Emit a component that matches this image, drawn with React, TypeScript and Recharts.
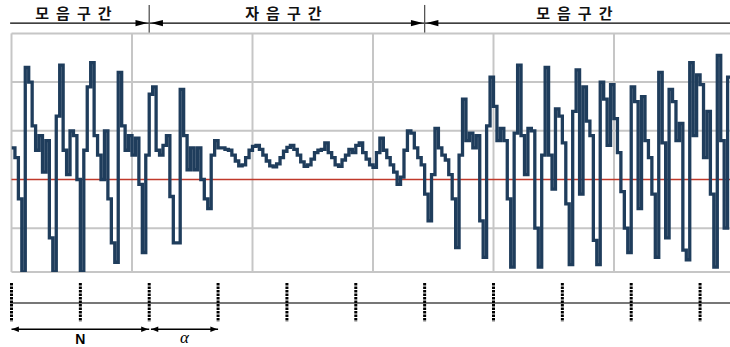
import React from "react";
import {
  ComposedChart,
  Line,
  XAxis,
  YAxis,
  CartesianGrid,
  ReferenceLine,
  ReferenceDot,
} from "recharts";

// waveform amplitude per sample (grid units, 0 = red baseline)
const SAMPLES = [
  0.65, 0.45, -0.4, -1.9, 2.3, 2.0, 1.1, 0.6, 0.9, 0.15,
  0.8, -1.2, -1.9, 1.3, 2.35, 0.6, 0.1, 1.0, 0.9, 0.0,
  -1.9, 0.6, 1.9, 2.4, 0.9, 0.5, 0.0, 1.0, -0.4, -1.3,
  -1.7, 2.2, 1.1, 0.6, 0.9, 0.5, 0.85, -0.1, -1.5, 0.5,
  1.75, 1.9, 0.6, 0.5, 0.7, 0.9, -0.35, -1.3, -1.3, 1.85,
  0.9, 0.2, 0.65, 0.2, 0.65, 0.0, -0.4, -0.6, 0.5, 0.8,
  0.65, 0.65, 0.62, 0.6, 0.5, 0.38, 0.28, 0.3, 0.45, 0.6,
  0.68, 0.7, 0.62, 0.5, 0.38, 0.28, 0.26, 0.32, 0.45, 0.58,
  0.66, 0.7, 0.62, 0.5, 0.36, 0.27, 0.3, 0.42, 0.55, 0.6,
  0.62, 0.75, 0.55, 0.45, 0.3, 0.27, 0.4, 0.5, 0.62, 0.55,
  0.7, 0.75, 0.55, 0.42, 0.3, 0.25, 0.55, 0.85, 0.6, 0.45,
  0.3, 0.15, -0.1, 0.05, 0.6, 1.0, 0.95, 0.65, 0.45, 0.3,
  -0.3, -0.85, 0.1, 1.05, 0.65, 0.5, 0.4, 0.1, -0.4, -1.4,
  0.5, 1.65, 0.8, 0.95, 0.65, 0.9, -0.85, -1.6, 1.1, 2.1,
  1.5, 0.8, 1.05, 0.8, -0.4, -1.8, 0.95, 2.35, 0.9, 0.1,
  1.05, 1.0, -1.0, -1.8, 0.5, 2.3, 0.5, -0.2, 1.45, 1.3,
  0.75, -0.5, -1.75, 1.4, 2.25, -0.3, 1.9, 1.2, 0.9, -1.25,
  -1.75, 2.0, 1.65, 0.7, 1.95, 1.25, 0.55, -0.25, -1.0, -1.5,
  1.9, 1.6, -0.6, 1.7, 0.8, 0.45, -0.3, -1.6, 2.2, 0.75,
  -1.2, 1.85, 1.6, 0.8, 1.15, -1.45, -1.65, 2.4, 0.9, 2.15,
  1.95, 0.45, 1.4, -0.3, -1.8, 2.55, 0.8, -1.0, 2.1, 2.1,
];

const GRID_X = [0, 35, 70, 105, 140, 175, 210];
const GRID_Y = [-1, 1, 2, 3];
const FRAME_TICKS = [0, 20, 40, 60, 80, 100, 120, 140, 160, 180, 200];

const SECTION_LABELS = ["모음구간", "자음구간", "모음구간"];
const SECTION_LABEL_X = [19, 80, 164.5];
const SECTION_BOUNDS = [0, 40, 120, 215];

const N_SPAN = [0, 40];
const ALPHA_SPAN = [40.5, 60];

const X_DOMAIN: [number, number] = [0, 210];
const CHART_W = 750;
const MARGIN_X = { left: 11.5, right: 15.5 };

const WAVE = "#1f3d5c";

const data = SAMPLES.map((v, t) => ({ t, v }));

// filled arrow head, tip at (cx, cy)
const arrowHead = (dir: 1 | -1, len: number, half: number) => (p: any) => (
  <polygon
    points={`${p.cx},${p.cy} ${p.cx - dir * len},${p.cy - half} ${p.cx - dir * len},${p.cy + half}`}
    fill="#000"
  />
);

const textAt = (value: string, style: React.CSSProperties) => (p: any) => (
  <text x={p.cx} y={p.cy} textAnchor="middle" style={style}>
    {value}
  </text>
);

function Header() {
  return (
    <ComposedChart
      width={CHART_W}
      height={33}
      data={data}
      margin={{ top: 0, bottom: 0, ...MARGIN_X }}
    >
      <XAxis hide type="number" dataKey="t" domain={X_DOMAIN} allowDataOverflow />
      <YAxis hide type="number" domain={[0, 10]} allowDataOverflow />
      <ReferenceLine
        segment={[{ x: SECTION_BOUNDS[0] - 0.4, y: 3 }, { x: SECTION_BOUNDS[3], y: 3 }]}
        stroke="#000"
        strokeWidth={1.3}
        ifOverflow="visible"
      />
      {SECTION_BOUNDS.slice(1, 3).map((b) => (
        <ReferenceLine
          key={`d${b}`}
          segment={[{ x: b, y: 8.5 }, { x: b, y: 0 }]}
          stroke="#555"
          strokeWidth={1.3}
          ifOverflow="visible"
        />
      ))}
      {SECTION_BOUNDS.slice(1, 3).map((b) => (
        <ReferenceDot key={`r${b}`} x={b - 0.5} y={3} ifOverflow="visible" shape={arrowHead(1, 12, 3.2)} />
      ))}
      {SECTION_BOUNDS.slice(1, 3).map((b) => (
        <ReferenceDot key={`l${b}`} x={b + 0.5} y={3} ifOverflow="visible" shape={arrowHead(-1, 12, 3.2)} />
      ))}
      {SECTION_LABELS.map((s, i) => (
        <ReferenceDot
          key={`t${i}`}
          x={SECTION_LABEL_X[i]}
          y={4.1}
          ifOverflow="visible"
          shape={textAt(s, {
            fontFamily: "'Noto Sans CJK KR', sans-serif",
            fontSize: 15,
            fontWeight: 700,
            letterSpacing: 7,
            fill: "#111",
          })}
        />
      ))}
    </ComposedChart>
  );
}

function Wave() {
  return (
    <ComposedChart
      width={CHART_W}
      height={242}
      data={data}
      margin={{ top: 1.4, bottom: 2, ...MARGIN_X }}
    >
      <CartesianGrid stroke="#c6c6c6" strokeWidth={2} />
      <XAxis hide type="number" dataKey="t" domain={X_DOMAIN} ticks={GRID_X} allowDataOverflow />
      <YAxis hide type="number" domain={[-1.9, 3]} ticks={GRID_Y} allowDataOverflow />
      <ReferenceLine y={0} stroke="#c0392b" strokeWidth={1.5} />
      <Line
        type="stepAfter"
        dataKey="v"
        stroke={WAVE}
        strokeWidth={3.3}
        dot={false}
        isAnimationActive={false}
      />
    </ComposedChart>
  );
}

function Frames() {
  return (
    <ComposedChart
      width={CHART_W}
      height={74}
      data={data}
      margin={{ top: 0, bottom: 0, ...MARGIN_X }}
    >
      <XAxis hide type="number" dataKey="t" domain={X_DOMAIN} allowDataOverflow />
      <YAxis hide type="number" domain={[0, 10]} allowDataOverflow />
      <ReferenceLine
        segment={[{ x: -0.4, y: 5.95 }, { x: 215, y: 5.95 }]}
        stroke="#777"
        strokeWidth={2}
        ifOverflow="visible"
      />
      {FRAME_TICKS.map((f) => (
        <ReferenceLine
          key={f}
          segment={[{ x: f, y: 8.65 }, { x: f, y: 3.4 }]}
          stroke="#000"
          strokeWidth={3}
          strokeDasharray="2.5 1"
          ifOverflow="visible"
        />
      ))}
      <ReferenceLine
        segment={[{ x: N_SPAN[0], y: 2.4 }, { x: N_SPAN[1], y: 2.4 }]}
        stroke="#000"
        strokeWidth={1.5}
        ifOverflow="visible"
      />
      <ReferenceLine
        segment={[{ x: ALPHA_SPAN[0], y: 2.4 }, { x: ALPHA_SPAN[1], y: 2.4 }]}
        stroke="#000"
        strokeWidth={1.5}
        ifOverflow="visible"
      />
      <ReferenceDot x={N_SPAN[0] + 0.1} y={2.4} ifOverflow="visible" shape={arrowHead(-1, 7, 2.8)} />
      <ReferenceDot x={N_SPAN[1] - 0.3} y={2.4} ifOverflow="visible" shape={arrowHead(1, 7, 2.8)} />
      <ReferenceDot x={ALPHA_SPAN[0] + 0.1} y={2.4} ifOverflow="visible" shape={arrowHead(-1, 7, 2.8)} />
      <ReferenceDot x={ALPHA_SPAN[1] - 0.2} y={2.4} ifOverflow="visible" shape={arrowHead(1, 7, 2.8)} />
      <ReferenceDot
        x={(N_SPAN[0] + N_SPAN[1]) / 2}
        y={0.4}
        ifOverflow="visible"
        shape={textAt("N", { fontFamily: "Arial, 'Liberation Sans', sans-serif", fontSize: 14, fontWeight: 700, fill: "#000" })}
      />
      <ReferenceDot
        x={(ALPHA_SPAN[0] + ALPHA_SPAN[1]) / 2}
        y={0.6}
        ifOverflow="visible"
        shape={textAt("α", { fontFamily: "'Liberation Serif', 'DejaVu Serif', serif", fontSize: 17, fontStyle: "italic", fill: "#000" })}
      />
    </ComposedChart>
  );
}

export default function App() {
  return (
    <div
      style={{
        position: "absolute",
        left: 0,
        top: 0,
        width: 730,
        height: 347,
        overflow: "hidden",
        background: "#fff",
      }}
    >
      <div style={{ position: "absolute", left: 0, top: 0 }}>
        <Header />
      </div>
      <div style={{ position: "absolute", left: 0, top: 32 }}>
        <Wave />
      </div>
      <div style={{ position: "absolute", left: 0, top: 273 }}>
        <Frames />
      </div>
    </div>
  );
}
